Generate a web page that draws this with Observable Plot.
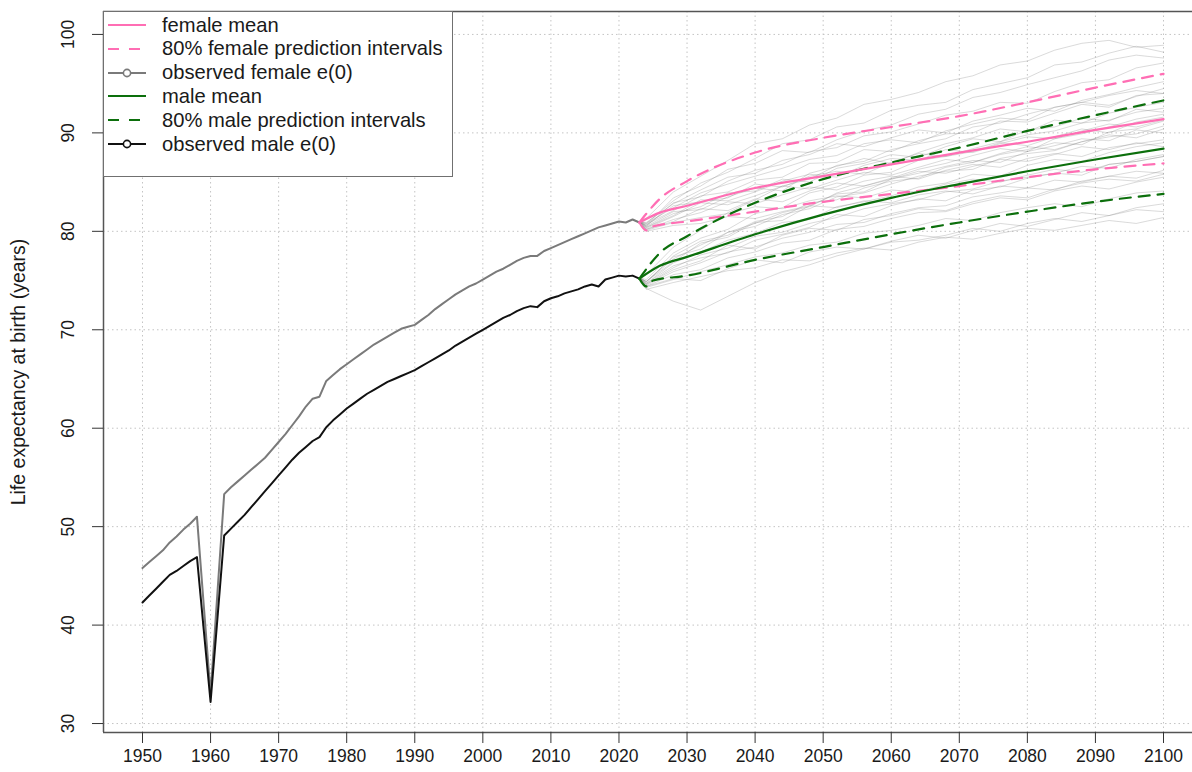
<!DOCTYPE html>
<html><head><meta charset="utf-8">
<script src="https://cdn.jsdelivr.net/npm/d3@7"></script>
<script src="https://cdn.jsdelivr.net/npm/@observablehq/plot@0.6"></script>
<style>
body{margin:0;background:#fff;font-family:"Liberation Sans",Arial,sans-serif;}
#wrap{position:relative;width:1192px;height:772px;overflow:hidden;}
#legend{position:absolute;left:103px;top:11px;width:350px;height:166px;border:1.5px solid #707070;background:#fff;box-sizing:border-box;}
.row{position:absolute;left:0;height:24px;display:flex;align-items:center;font-size:20.2px;color:#1a1a1a;white-space:nowrap;}
.row svg{margin-left:3px;margin-right:15px;}
</style>
</head><body>
<div id="wrap"><div id="chart"></div><div id="legend"></div></div>
<script>
// ---------- data ----------
const obsYears = d3.range(1950, 2024);
const femaleObs = [
45.8,46.4,47.0,47.6,48.4,49.0,49.7,50.3,51.0,42.0,
33.0,43.2,53.3,54.0,54.6,55.2,55.8,56.4,57.0,57.8,
58.6,59.4,60.3,61.2,62.2,63.0,63.2,64.8,65.4,66.0,
66.5,67.0,67.5,68.0,68.5,68.9,69.3,69.7,70.1,70.3,
70.5,71.0,71.5,72.1,72.6,73.1,73.6,74.0,74.4,74.7,
75.1,75.5,75.9,76.2,76.6,77.0,77.3,77.5,77.5,78.0,
78.3,78.6,78.9,79.2,79.5,79.8,80.1,80.4,80.6,80.8,
81.0,80.9,81.2,80.9];
const maleObs = [
42.3,43.0,43.7,44.4,45.1,45.5,46.0,46.5,46.9,39.5,
32.2,40.6,49.1,49.8,50.5,51.2,52.0,52.8,53.6,54.4,
55.2,56.0,56.8,57.5,58.1,58.7,59.1,60.1,60.8,61.4,
62.0,62.5,63.0,63.5,63.9,64.3,64.7,65.0,65.3,65.6,
65.9,66.3,66.7,67.1,67.5,67.9,68.4,68.8,69.2,69.6,
70.0,70.4,70.8,71.2,71.5,71.9,72.2,72.4,72.3,72.9,
73.2,73.4,73.7,73.9,74.1,74.4,74.6,74.4,75.1,75.3,
75.5,75.4,75.5,75.2];

const femMeanYears = [2023,2026,2030,2040,2050,2060,2070,2080,2090,2100];
const femMean      = [80.9,81.9,82.6,84.4,85.6,86.8,88.0,89.1,90.3,91.4];
const femUpYears   = [2023,2026,2030,2040,2050,2060,2070,2080,2090,2100];
const femUp        = [80.9,83.3,85.1,88.0,89.5,90.6,91.7,93.1,94.6,96.0];
const femLoYears   = [2023,2024,2025,2030,2040,2050,2060,2070,2080,2090,2100];
const femLo        = [80.9,80.1,80.5,81.0,82.0,83.0,83.8,84.6,85.5,86.3,86.9];

const maleMeanYears = [2023,2026,2030,2040,2050,2060,2070,2080,2090,2100];
const maleMean      = [75.2,76.5,77.4,79.7,81.7,83.4,84.8,86.1,87.3,88.4];
const maleUpYears   = [2023,2026,2030,2040,2050,2060,2070,2080,2090,2100];
const maleUp        = [75.2,77.8,79.5,82.9,85.3,87.0,88.5,90.2,91.8,93.3];
const maleLoYears   = [2023,2024,2025,2030,2040,2050,2060,2070,2080,2090,2100];
const maleLo        = [75.2,74.4,75.0,75.5,77.1,78.4,79.7,80.9,82.0,83.0,83.8];

const trajYears = [2023,2024,2028,2032,2036,2040,2044,2048,2052,2056,2060,2064,2068,2072,2076,2080,2084,2088,2092,2096,2100];
const femaleTraj = [
[81.0,81.3,84.0,85.6,87.2,88.9,89.4,90.8,91.5,92.9,93.4,94.1,95.2,95.8,96.9,97.3,98.4,99.1,99.4,98.7,98.9],
[81.0,80.8,83.1,84.9,86.0,87.4,88.9,89.3,90.6,91.0,92.3,92.8,93.1,94.4,95.0,95.6,96.9,97.2,98.1,98.8,98.2],
[81.0,80.5,82.9,83.5,85.1,86.2,86.8,88.1,88.5,89.7,90.1,90.9,91.8,92.2,93.1,93.0,94.2,95.1,95.4,96.6,97.1],
[81.0,80.7,82.1,83.6,84.0,85.2,85.5,86.9,87.0,88.3,88.1,89.2,89.9,90.0,91.2,91.1,92.0,92.9,92.6,93.8,94.0],
[81.0,80.4,81.8,82.5,83.9,84.1,85.3,85.0,86.4,86.9,87.8,87.5,88.6,89.4,89.1,90.3,90.6,91.5,91.2,92.4,92.1],
[81.0,80.6,82.6,83.0,83.4,84.8,84.5,85.6,86.1,85.8,87.0,87.9,87.6,88.1,89.0,88.7,89.6,90.4,90.0,91.1,91.6],
[81.0,80.3,81.5,82.9,82.7,83.6,84.6,84.3,85.2,86.0,85.7,86.5,87.3,87.0,87.9,88.6,88.3,89.1,89.8,89.5,90.4],
[81.0,80.2,81.2,81.9,83.0,82.8,83.7,84.5,84.2,85.1,85.6,85.3,86.2,86.8,86.5,87.4,87.9,87.6,88.5,88.9,89.3],
[81.0,80.1,80.9,81.4,81.8,82.5,82.3,83.1,83.6,83.4,84.2,84.0,84.8,85.3,85.0,85.7,86.3,86.0,86.8,87.1,87.6],
[81.0,80.0,80.6,80.8,81.5,81.3,82.0,82.6,82.4,83.1,82.9,83.7,84.1,83.8,84.6,84.4,85.2,85.0,85.6,86.1,85.9],
[81.0,80.9,82.8,84.2,85.5,85.9,87.2,87.8,88.9,88.6,89.5,90.3,90.0,91.2,91.8,92.5,92.2,93.3,93.9,94.6,95.2],
[81.0,80.5,82.0,82.2,83.5,84.4,84.1,85.9,86.6,87.4,86.9,88.0,88.9,89.5,90.4,90.1,91.3,91.0,92.0,92.6,93.1],
[81.0,80.6,83.4,84.6,86.3,86.9,88.2,88.0,89.3,90.2,90.8,91.9,92.4,93.6,94.1,94.9,95.6,96.3,97.4,97.9,97.6],
[81.0,80.4,81.6,83.2,83.1,84.0,85.1,85.8,85.5,86.7,87.4,87.2,88.3,88.0,88.9,89.6,89.4,90.2,90.9,90.6,91.3],
[81.0,80.2,81.0,82.3,82.1,83.3,83.0,84.1,84.9,84.6,85.3,86.1,85.9,86.6,87.3,87.1,87.8,88.6,88.3,89.0,88.6],
[81.0,80.8,82.4,83.9,84.8,85.6,86.4,87.3,87.7,88.9,89.3,89.0,90.2,90.9,91.5,91.3,92.6,93.1,92.8,93.7,94.5]];
const maleTraj = [
[75.3,75.6,78.4,80.1,81.9,83.2,84.6,85.3,86.7,87.1,88.3,88.9,89.4,90.6,91.0,91.9,92.6,93.1,93.8,94.3,94.0],
[75.3,75.1,77.8,79.3,80.2,81.8,82.4,83.9,84.5,85.7,86.0,87.2,87.6,88.4,89.1,89.8,90.2,91.0,91.3,92.1,92.5],
[75.3,74.9,77.2,78.6,79.9,80.5,81.7,82.3,83.5,83.9,84.8,85.6,86.1,86.3,87.4,87.9,88.2,89.1,89.6,89.9,90.7],
[75.3,74.7,76.8,77.9,79.1,79.8,80.9,81.2,82.5,83.0,83.6,84.5,84.9,85.8,85.6,86.7,87.3,87.1,88.0,88.6,89.0],
[75.3,74.6,76.3,77.6,78.3,79.5,79.9,80.8,81.4,82.3,82.8,83.2,84.0,84.3,85.1,85.5,85.9,86.6,86.4,87.3,87.8],
[75.3,74.5,75.9,76.8,77.9,78.4,79.3,79.9,80.7,80.9,81.8,82.4,82.6,83.5,83.9,84.4,84.2,85.1,85.6,85.4,86.2],
[75.3,74.3,75.1,75.9,76.6,77.4,77.8,78.6,78.9,79.8,80.1,80.6,81.3,81.1,81.9,82.4,82.8,82.5,83.3,83.9,84.1],
[75.3,74.2,72.9,72.0,73.4,74.8,75.9,76.6,77.5,78.2,78.9,79.1,79.6,80.3,80.0,80.8,81.3,81.0,81.6,82.2,82.0],
[75.3,74.8,77.5,79.0,79.6,81.0,81.5,82.9,83.2,84.4,85.1,85.4,86.5,87.0,87.8,88.3,89.0,88.8,90.1,90.4,91.2],
[75.3,74.4,75.6,76.1,77.3,77.9,78.8,79.1,80.2,80.5,81.3,81.9,82.0,82.8,83.4,83.2,84.1,84.6,84.3,85.0,85.5],
[75.3,74.9,76.9,78.8,79.4,80.9,81.1,82.6,83.8,84.0,85.3,85.9,86.6,87.2,87.0,88.1,88.7,89.4,89.2,90.3,90.0],
[75.3,74.1,74.8,75.4,76.0,76.3,77.1,77.0,77.8,78.3,78.1,78.9,79.4,79.2,79.8,80.3,80.1,80.6,81.1,80.8,81.4],
[75.3,74.6,76.1,77.0,78.6,78.2,79.6,80.3,80.1,81.2,81.6,82.3,82.1,83.0,83.6,83.4,84.3,84.9,85.3,85.1,85.8],
[75.3,74.9,77.4,78.2,79.9,80.8,81.9,82.5,83.9,84.6,85.4,86.3,86.9,87.7,88.4,88.1,89.4,89.9,90.6,91.4,91.9],
[75.3,74.4,75.2,75.0,76.2,77.1,76.8,77.9,78.4,78.2,79.0,79.6,79.3,80.1,80.8,80.5,81.2,81.9,81.6,82.4,82.8],
[75.3,74.7,76.5,77.3,77.8,79.1,79.7,80.4,81.7,81.5,82.6,83.3,83.1,84.2,84.5,85.4,85.9,85.7,86.8,87.1,87.6]];

const xTicks = [1950,1960,1970,1980,1990,2000,2010,2020,2030,2040,2050,2060,2070,2080,2090,2100];
const yTicks = [30,40,50,60,70,80,90,100];
const yTitle = "Life expectancy at birth (years)";
const legendLabels = ["female mean","80% female prediction intervals","observed female e(0)","male mean","80% male prediction intervals","observed male e(0)"];

// ---------- build ----------
const PINK = "#ff6eb4", GREEN = "#0c6f0c", FGRAY = "#7a7a7a", MBLACK = "#111";
const xDomain = [1944.27, 2104.26], yDomain = [29.09, 102.33];
const toRows = (xs, ys) => xs.map((x, i) => ({year: x, e0: ys[i]}));
const trajRows = [];
femaleTraj.forEach((t, k) => t.forEach((v, j) => trajRows.push({id: "f" + k, year: trajYears[j], e0: v})));
maleTraj.forEach((t, k) => t.forEach((v, j) => trajRows.push({id: "m" + k, year: trajYears[j], e0: v})));
const dash = "11,8";

const chart = Plot.plot({
  width: 1192, height: 772,
  marginLeft: 103, marginRight: 0, marginTop: 11, marginBottom: 40,
  x: {domain: xDomain, label: null, axis: null},
  y: {domain: yDomain, label: null, axis: null},
  style: {fontFamily: "'Liberation Sans', Arial, sans-serif", fontSize: "16px", color: "#1a1a1a", background: "#fff"},
  marks: [
    Plot.ruleX(xTicks, {stroke: "#c4c4c4", strokeDasharray: "1.5,3"}),
    Plot.ruleY(yTicks, {stroke: "#c4c4c4", strokeDasharray: "1.5,3"}),
    Plot.line(trajRows, {x: "year", y: "e0", z: "id", stroke: "#7a7a7a", strokeOpacity: 0.28, strokeWidth: 1}),
    Plot.line(toRows(obsYears, femaleObs), {x: "year", y: "e0", stroke: FGRAY, strokeWidth: 2}),
    Plot.line(toRows(obsYears, maleObs), {x: "year", y: "e0", stroke: MBLACK, strokeWidth: 2}),
    Plot.line(toRows(femUpYears, femUp), {x: "year", y: "e0", stroke: PINK, strokeWidth: 2.2, strokeDasharray: dash, curve: "monotone-x"}),
    Plot.line(toRows(femLoYears, femLo), {x: "year", y: "e0", stroke: PINK, strokeWidth: 2.2, strokeDasharray: dash, curve: "monotone-x"}),
    Plot.line(toRows(maleUpYears, maleUp), {x: "year", y: "e0", stroke: GREEN, strokeWidth: 2.2, strokeDasharray: dash, curve: "monotone-x"}),
    Plot.line(toRows(maleLoYears, maleLo), {x: "year", y: "e0", stroke: GREEN, strokeWidth: 2.2, strokeDasharray: dash, curve: "monotone-x"}),
    Plot.line(toRows(femMeanYears, femMean), {x: "year", y: "e0", stroke: PINK, strokeWidth: 2.2, curve: "monotone-x"}),
    Plot.line(toRows(maleMeanYears, maleMean), {x: "year", y: "e0", stroke: GREEN, strokeWidth: 2.2, curve: "monotone-x"}),
    Plot.ruleX([xDomain[0]], {stroke: "#555", strokeWidth: 1.5}),
    Plot.ruleY([yDomain[0]], {stroke: "#555", strokeWidth: 1.5}),
    Plot.ruleY([yDomain[1]], {stroke: "#555", strokeWidth: 1.5}),
    Plot.axisX({ticks: xTicks, tickFormat: d => String(d), tickSize: 11, tickPadding: 6, fontSize: 17.5, stroke: "#333"}),
    Plot.axisY({ticks: yTicks, tickFormat: () => "", tickSize: 11, stroke: "#333"}),
    Plot.text(yTicks, {y: d => d, text: d => String(d), frameAnchor: "left", dx: -35, rotate: -90, fontSize: 17.5, textAnchor: "middle", lineAnchor: "middle"}),
    Plot.text([yTitle], {frameAnchor: "left", dx: -85, rotate: -90, fontSize: 19.5, textAnchor: "middle", lineAnchor: "middle"})
  ]
});
document.getElementById("chart").appendChild(chart);

// ---------- legend ----------
const legendStyles = [
  {stroke: PINK, dash: null, marker: false},
  {stroke: PINK, dash: "11,10", marker: false},
  {stroke: FGRAY, dash: null, marker: true},
  {stroke: GREEN, dash: null, marker: false},
  {stroke: GREEN, dash: "11,10", marker: false},
  {stroke: MBLACK, dash: null, marker: true}
];
const leg = document.getElementById("legend");
legendLabels.forEach((lab, i) => {
  const s = legendStyles[i];
  const row = document.createElement("div");
  row.className = "row";
  row.style.top = (12 + i * 23.8 - 11) + "px";
  row.innerHTML = `<svg width="40" height="14"><line x1="1" y1="7" x2="39" y2="7" stroke="${s.stroke}" stroke-width="2"${s.dash ? ` stroke-dasharray="${s.dash}"` : ""}/>` +
    (s.marker ? `<circle cx="20" cy="7" r="3.6" fill="#fff" stroke="${s.stroke}" stroke-width="1.6"/>` : "") +
    `</svg><span>${lab}</span>`;
  leg.appendChild(row);
});
</script>
</body></html>
